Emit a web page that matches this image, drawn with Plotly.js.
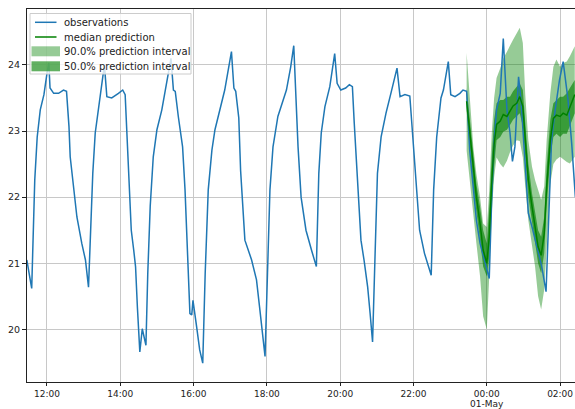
<!DOCTYPE html>
<html><head><meta charset="utf-8">
<script src="https://cdn.plot.ly/plotly-3.0.1.min.js"></script>
<style>html,body{margin:0;padding:0;background:#fff}#chart{width:575px;height:409px}</style>
</head><body><div id="chart"></div>
<script>
// ---------- data ----------
const obsTime = ["11:27","11:35","11:40","11:44","11:49","11:55","12:00","12:03","12:05","12:11","12:19","12:27","12:32","12:36","12:38","12:44","12:49","12:57","13:03","13:08","13:11","13:15","13:19","13:25","13:30","13:34","13:38","13:46","13:57","14:04","14:08","14:10","14:13","14:15","14:18","14:22","14:25","14:28","14:32","14:36","14:42","14:45","14:49","14:54","15:00","15:08","15:16","15:23","15:27","15:30","15:35","15:42","15:46","15:50","15:54","15:57","15:59","16:05","16:10","16:15","16:19","16:24","16:30","16:35","16:43","16:51","17:02","17:06","17:09","17:14","17:17","17:24","17:35","17:43","17:48","17:57","18:01","18:05","18:10","18:18","18:32","18:39","18:44","18:48","18:51","18:56","19:04","19:13","19:21","19:25","19:29","19:35","19:43","19:51","19:55","20:01","20:09","20:15","20:20","20:23","20:29","20:34","20:39","20:45","20:49","20:53","20:57","21:01","21:07","21:15","21:23","21:33","21:38","21:46","21:54","21:59","22:04","22:10","22:18","22:29","22:33","22:38","22:45","22:49","22:57","23:01","23:08","23:16","23:21","23:27","23:32","23:38","23:43","23:49","23:57","00:04","00:08","00:12","00:16","00:22","00:27","00:33","00:38","00:42","00:46","00:52","00:56","01:00","01:04","01:08","01:14","01:22","01:30","01:37","01:41","01:46","01:52","01:59","02:05","02:10","02:13","02:19","02:23","02:25"];
const obsValue = [21.05,20.62,22.26,22.91,23.32,23.55,23.87,24.03,23.65,23.57,23.57,23.62,23.6,23.07,22.61,22.16,21.7,21.3,21.05,20.64,21.35,22.36,22.97,23.37,23.67,24.0,23.52,23.5,23.57,23.62,23.55,23.1,22.4,21.9,21.5,21.2,20.95,20.34,19.66,20.01,19.76,20.85,21.86,22.61,23.02,23.32,23.72,24.1,23.62,23.6,23.22,22.76,22.11,21.15,20.24,20.22,20.44,20.04,19.69,19.49,20.85,22.11,22.71,23.02,23.32,23.62,24.2,23.65,23.6,23.2,22.4,21.35,21.05,20.75,20.34,19.59,20.85,22.11,22.76,23.22,23.62,23.97,24.29,23.37,22.76,22.0,21.5,21.2,20.95,22.36,22.97,23.37,23.67,24.17,23.72,23.62,23.65,23.7,23.67,23.12,22.11,21.35,21.05,20.64,20.24,19.81,21.1,22.36,22.91,23.27,23.57,23.95,23.52,23.55,23.53,22.86,22.21,21.5,21.15,20.82,22.11,22.91,23.5,23.62,24.05,23.55,23.52,23.57,23.62,23.6,22.71,22.06,21.65,21.3,21.0,20.77,21.96,22.86,23.32,23.57,24.4,23.32,22.97,22.54,22.76,23.82,23.47,22.86,22.31,21.76,21.55,21.25,20.95,20.57,21.7,22.86,23.32,23.77,24.05,23.67,23.47,22.81,22.21,22.0];

const fcTime = ["23:27","23:32","23:38","23:43","23:49","23:54","00:00","00:04","00:08","00:12","00:16","00:22","00:27","00:33","00:38","00:43","00:49","00:54","00:59","01:03","01:08","01:14","01:19","01:24","01:29","01:34","01:38","01:44","01:49","01:54","02:00","02:05","02:11","02:16","02:24"];
const medianValue = [23.45,23.0,22.4,22.0,21.6,21.2,21.0,21.4,22.2,22.8,23.1,23.15,23.25,23.22,23.3,23.38,23.42,23.52,23.37,22.86,22.26,21.86,21.55,21.25,21.12,21.45,22.16,22.86,23.19,23.24,23.22,23.27,23.24,23.37,23.55];
const hi50 = [23.65,23.2,22.6,22.2,21.85,21.5,21.3,21.85,22.6,23.17,23.42,23.47,23.47,23.52,23.52,23.6,23.67,23.72,23.62,23.12,22.51,22.06,21.76,21.5,21.4,21.7,22.46,23.17,23.42,23.47,23.52,23.52,23.57,23.65,23.77];
const lo50 = [23.3,22.8,22.15,21.75,21.35,20.95,20.8,21.1,21.86,22.46,22.86,22.91,22.99,23.02,23.09,23.17,23.22,23.27,23.07,22.61,22.01,21.6,21.3,21.0,20.85,21.15,21.86,22.61,22.91,22.96,22.91,22.96,22.96,23.07,23.27];
const hi90 = [24.18,23.45,22.75,22.35,22.0,21.6,21.55,22.1,22.95,23.5,23.8,23.95,24.1,24.2,24.28,24.38,24.48,24.56,24.33,23.55,22.86,22.46,22.26,22.11,21.96,22.16,22.86,23.57,23.97,24.08,23.97,24.03,24.05,24.13,24.28];
const lo90 = [22.7,22.2,21.75,21.3,20.8,20.2,20.0,20.8,21.75,22.3,22.6,22.5,22.45,22.55,22.68,22.78,22.86,22.85,22.6,22.16,21.65,21.3,20.95,20.5,20.3,20.6,21.3,22.2,22.5,22.57,22.61,22.58,22.53,22.51,22.61];

const xTickTime = ["12:00","14:00","16:00","18:00","20:00","22:00","00:00","02:00"];
const xTickText = ["12:00","14:00","16:00","18:00","20:00","22:00","00:00","02:00"];
const dayLabelTime = "00:00";
const dayLabelText = "01-May";
const yTickValue = [20,21,22,23,24];
const legendText = ["observations","median prediction","90.0% prediction interval","50.0% prediction interval"];

// ---------- helpers ----------
function toDate(hm){ const h = parseInt(hm.slice(0,2),10); return (h < 11 ? "2020-05-01 " : "2020-04-30 ") + hm; }
const obsX = obsTime.map(toDate);
const fcX = fcTime.map(toDate);
function band(hi, lo){ return { x: fcX.concat(fcX.slice().reverse()), y: hi.concat(lo.slice().reverse()) }; }

const FONT = "DejaVu Sans, Liberation Sans, sans-serif";
const C_OBS = "#1f77b4", C_MED = "#008000";
const C_90 = "rgba(0,128,0,0.41)", C_50 = "rgba(0,128,0,0.62)";
const TICK_FONT = {family:FONT, size:9, color:"#222"};

const b90 = band(hi90, lo90), b50 = band(hi50, lo50);
const traces = [
  {type:"scatter", mode:"lines", x:b90.x, y:b90.y, fill:"toself", fillcolor:C_90, line:{width:0}, hoverinfo:"skip", showlegend:false, name:legendText[2]},
  {type:"scatter", mode:"lines", x:b50.x, y:b50.y, fill:"toself", fillcolor:C_50, line:{width:0}, hoverinfo:"skip", showlegend:false, name:legendText[3]},
  {type:"scatter", mode:"lines", x:obsX, y:obsValue, line:{color:C_OBS, width:1.5}, showlegend:false, name:legendText[0]},
  {type:"scatter", mode:"lines", x:fcX, y:medianValue, line:{color:C_MED, width:1.5}, showlegend:false, name:legendText[1]}
];

// plot area in pixels: x 27..575, y 9..382
const PL = 27, PR = 575, PT = 9, PB = 382;
const px = X => (X - PL) / (PR - PL);
const py = Y => (PB - Y) / (PB - PT);

const shapes = [
  {type:"rect", xref:"paper", yref:"paper", layer:"above", x0:px(30), x1:px(191), y0:py(74), y1:py(13.5), fillcolor:"rgba(255,255,255,0.8)", line:{color:"#cccccc", width:1}},
  {type:"line", xref:"paper", yref:"paper", layer:"above", x0:px(35), x1:px(56.5), y0:py(22.3), y1:py(22.3), line:{color:C_OBS, width:1.5}},
  {type:"line", xref:"paper", yref:"paper", layer:"above", x0:px(35), x1:px(56.5), y0:py(37), y1:py(37), line:{color:C_MED, width:1.5}},
  {type:"rect", xref:"paper", yref:"paper", layer:"above", x0:px(31.5), x1:px(60), y0:py(56.3), y1:py(46.3), fillcolor:C_90, line:{width:0}},
  {type:"rect", xref:"paper", yref:"paper", layer:"above", x0:px(31.5), x1:px(60), y0:py(71.3), y1:py(61.3), fillcolor:C_50, line:{width:0}}
];
const rowY = [22.3, 37, 51.3, 66.3];
const annotations = legendText.map((t, i) => ({
  xref:"paper", yref:"paper", x:px(61.5), y:py(rowY[i]), xanchor:"left", yanchor:"middle",
  text:t, showarrow:false, font:{family:FONT, size:10, color:"#222"}
}));
annotations.push({
  xref:"x", yref:"paper", x:toDate(dayLabelTime), y:py(408.6), xanchor:"center", yanchor:"bottom",
  text:dayLabelText, showarrow:false, font:TICK_FONT, borderpad:0, borderwidth:0
});

const layout = {
  width:575, height:409,
  margin:{l:PL, r:575-PR, t:PT, b:409-PB, pad:0},
  paper_bgcolor:"#fff", plot_bgcolor:"#fff",
  showlegend:false,
  font:{family:FONT, size:10, color:"#222"},
  xaxis:{
    type:"date", range:["2020-04-30 11:27:18","2020-05-01 02:24:24"],
    tickmode:"array", tickvals:xTickTime.map(toDate), ticktext:xTickText,
    ticks:"outside", ticklen:3, tickwidth:1, tickcolor:"#222",
    showgrid:true, gridcolor:"#c8c8c8", gridwidth:1, zeroline:false,
    showline:true, linecolor:"#222", linewidth:1, mirror:true,
    tickfont:TICK_FONT
  },
  yaxis:{
    range:[19.205, 24.845], tickmode:"array", tickvals:yTickValue,
    ticks:"outside", ticklen:4, tickwidth:1, tickcolor:"#222",
    showgrid:true, gridcolor:"#c8c8c8", gridwidth:1, zeroline:false,
    showline:true, linecolor:"#222", linewidth:1, mirror:false,
    tickfont:{family:FONT, size:9.5, color:"#222"}
  },
  shapes:shapes, annotations:annotations
};

Plotly.newPlot("chart", traces, layout, {staticPlot:true, displayModeBar:false});
</script></body></html>
